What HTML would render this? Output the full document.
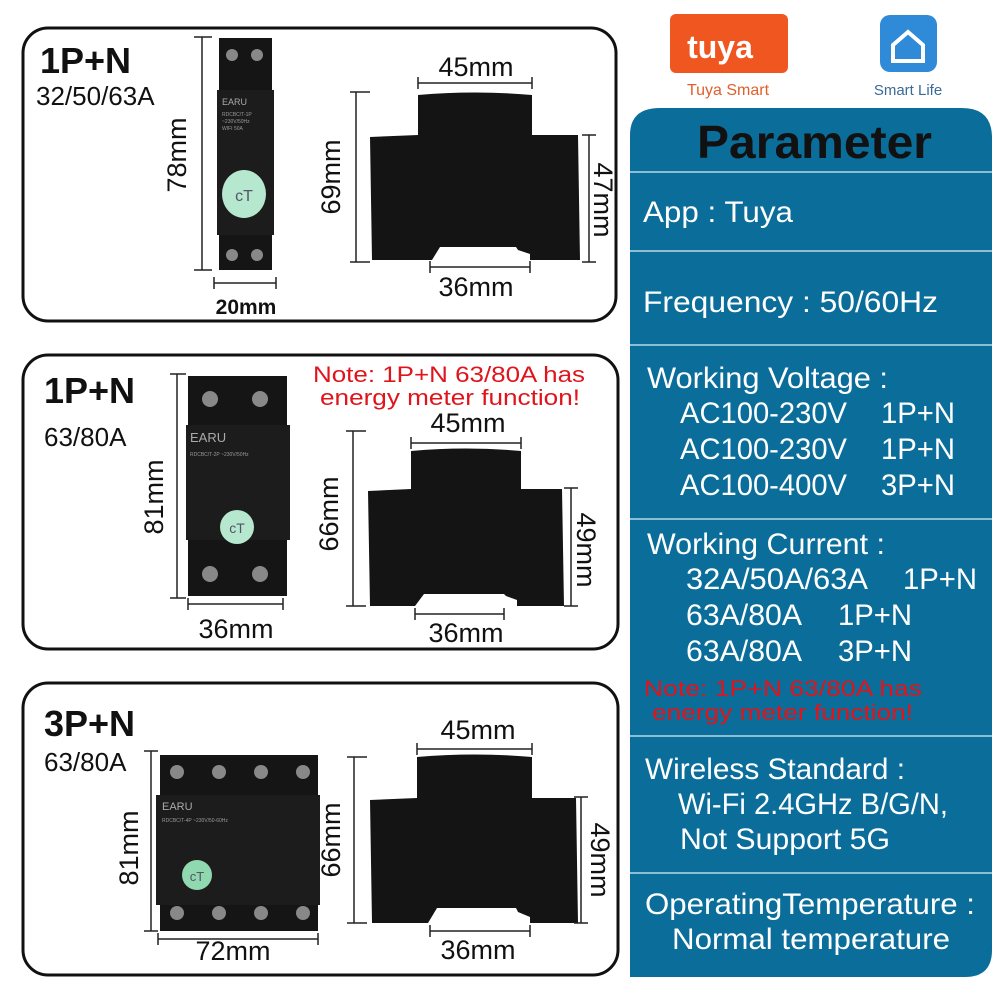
<!DOCTYPE html>
<html><head><meta charset="utf-8"><style>
html,body{margin:0;padding:0;background:#fff;}
svg{display:block;font-family:"Liberation Sans",sans-serif;}
</style></head><body>
<svg width="1000" height="1000" viewBox="0 0 1000 1000" xmlns="http://www.w3.org/2000/svg">
<rect width="1000" height="1000" fill="#fff"/>
<g fill="none" stroke="#111" stroke-width="3">
<rect x="23" y="28" width="593" height="293" rx="25"/>
<rect x="23" y="355" width="595" height="294" rx="25"/>
<rect x="23" y="683" width="595" height="292" rx="25"/>
</g>
<g fill="#111">
<text x="40" y="73" font-size="36" font-weight="bold">1P+N</text>
<text x="36" y="105" font-size="26">32/50/63A</text>
<text x="44" y="403" font-size="36" font-weight="bold">1P+N</text>
<text x="44" y="446" font-size="26">63/80A</text>
<text x="44" y="736" font-size="36" font-weight="bold">3P+N</text>
<text x="44" y="771" font-size="26">63/80A</text>
</g>
<text x="313" y="382" font-size="22" fill="#e0141b" textLength="272" lengthAdjust="spacingAndGlyphs">Note:  1P+N  63/80A  has</text>
<text x="320" y="405" font-size="22" fill="#e0141b" textLength="260" lengthAdjust="spacingAndGlyphs">energy meter function!</text>

<g>
<rect x="219" y="38" width="53" height="232" fill="#151515"/>
<rect x="217" y="90" width="57" height="145" fill="#1c1c1c"/>
<text x="222" y="105" font-size="9" fill="#aaa">EARU</text>
<text x="222" y="116" font-size="5" fill="#999">RDCBC/T-1P</text>
<text x="222" y="123" font-size="5" fill="#999">~230V/50Hz</text>
<text x="222" y="130" font-size="5" fill="#999">WIFI   50A</text>
<ellipse cx="244" cy="194" rx="22" ry="24" fill="#b6e8cf"/>
<text x="244" y="201" font-size="16" fill="#556" text-anchor="middle">cT</text>
<circle cx="232" cy="55" r="6" fill="#888"/><circle cx="257" cy="55" r="6" fill="#888"/>
<circle cx="232" cy="255" r="6" fill="#888"/><circle cx="257" cy="255" r="6" fill="#888"/>

<rect x="188" y="376" width="99" height="220" fill="#151515"/>
<rect x="186" y="425" width="104" height="115" fill="#1c1c1c"/>
<text x="190" y="442" font-size="13" fill="#aaa">EARU</text>
<text x="190" y="456" font-size="5" fill="#999">RDCBC/T-2P ~230V/50Hz</text>
<circle cx="237" cy="527" r="17" fill="#b6e8cf"/>
<text x="237" y="533" font-size="14" fill="#556" text-anchor="middle">cT</text>
<circle cx="210" cy="399" r="8" fill="#888"/><circle cx="260" cy="399" r="8" fill="#888"/>
<circle cx="210" cy="574" r="8" fill="#888"/><circle cx="260" cy="574" r="8" fill="#888"/>

<rect x="160" y="755" width="158" height="176" fill="#151515"/>
<rect x="156" y="795" width="164" height="110" fill="#1c1c1c"/>
<text x="162" y="810" font-size="11" fill="#aaa">EARU</text>
<text x="162" y="822" font-size="5" fill="#999">RDCBC/T-4P ~230V/50-60Hz</text>
<circle cx="197" cy="875" r="15" fill="#8fd8b0"/>
<text x="197" y="881" font-size="13" fill="#556" text-anchor="middle">cT</text>
<g fill="#888"><circle cx="177" cy="772" r="7"/><circle cx="219" cy="772" r="7"/><circle cx="261" cy="772" r="7"/><circle cx="303" cy="772" r="7"/>
<circle cx="177" cy="913" r="7"/><circle cx="219" cy="913" r="7"/><circle cx="261" cy="913" r="7"/><circle cx="303" cy="913" r="7"/></g>
</g>

<g fill="#141414">
<path d="M418 95 Q475 90 532 95 L532 135 L578 135 L580 260 L530 260 L530 254 L518 250 L516 247 L440 247 L432 260 L372 260 L370 137 L418 135 Z"/>
<path d="M411 451 Q466 446 521 451 L521 489 L562 489 L564 606 L517 606 L517 600 L506 596 L504 594 L424 594 L415 606 L370 606 L368 491 L411 489 Z"/>
<path d="M417 757 Q475 752 532 757 L532 798 L576 798 L578 923 L530 923 L530 917 L518 912 L516 908 L437 908 L428 923 L372 923 L370 800 L417 798 Z"/>
</g>

<g stroke="#222" stroke-width="1.5" fill="none">
<path d="M202 37V270 M194 37H212 M194 270H212 M214 283H276 M214 277V289 M276 277V289"/>
<path d="M356 92V262 M350 92H370 M350 262H370 M418 83H532 M418 77V89 M532 77V89 M589 135V262 M582 135H596 M582 262H596 M430 267H530 M430 261V273 M530 261V273"/>
<path d="M177 374V598 M170 374H186 M170 598H186 M188 604H283 M188 598V610 M283 598V610"/>
<path d="M353 431V606 M346 431H366 M346 606H366 M411 443H521 M411 437V449 M521 437V449 M571 488V606 M564 488H578 M564 606H578 M415 614H504 M415 608V620 M504 608V620"/>
<path d="M151 751V931 M144 751H158 M144 931H158 M158 939H318 M158 933V945 M318 933V945"/>
<path d="M354 757V923 M347 757H367 M347 923H367 M417 749H532 M417 743V755 M532 743V755 M581 797V923 M574 797H588 M574 923H588 M430 931H530 M430 925V937 M530 925V937"/>
</g>

<g fill="#111" font-size="27" text-anchor="middle">
<text transform="translate(186,155) rotate(-90)">78mm</text>
<text x="246" y="314" font-size="21" font-weight="bold">20mm</text>
<text transform="translate(340,177) rotate(-90)">69mm</text>
<text x="476" y="76">45mm</text>
<text transform="translate(594,200) rotate(90)">47mm</text>
<text x="476" y="296">36mm</text>

<text transform="translate(163,497) rotate(-90)">81mm</text>
<text x="236" y="638">36mm</text>
<text transform="translate(338,514) rotate(-90)">66mm</text>
<text x="468" y="432">45mm</text>
<text transform="translate(577,550) rotate(90)">49mm</text>
<text x="466" y="642">36mm</text>

<text transform="translate(138,848) rotate(-90)">81mm</text>
<text x="233" y="960">72mm</text>
<text transform="translate(340,840) rotate(-90)">66mm</text>
<text x="478" y="739">45mm</text>
<text transform="translate(591,860) rotate(90)">49mm</text>
<text x="478" y="959">36mm</text>
</g>

<rect x="670" y="14" width="118" height="59" rx="6" fill="#f0561f"/>
<text x="720" y="58" font-size="32" font-weight="bold" fill="#fff" text-anchor="middle">tuya</text>
<text x="728" y="95" font-size="16" fill="#e0602a" text-anchor="middle">Tuya Smart</text>
<rect x="880" y="15" width="57" height="57" rx="10" fill="#2f8ad8"/>
<path d="M893 45 L908 32 L923 45 V61 H893 Z" fill="none" stroke="#fff" stroke-width="4"/>
<text x="908" y="95" font-size="15" fill="#3b6a96" text-anchor="middle">Smart Life</text>

<path d="M630 135 Q630 108 660 108 L962 108 Q992 108 992 138 L992 950 Q992 977 965 977 L630 977 Z" fill="#0b6d9a"/>
<g stroke="#8dbdd2" stroke-width="2">
<line x1="630" y1="172" x2="992" y2="172"/>
<line x1="630" y1="251" x2="992" y2="251"/>
<line x1="630" y1="345" x2="992" y2="345"/>
<line x1="630" y1="519" x2="992" y2="519"/>
<line x1="630" y1="736" x2="992" y2="736"/>
<line x1="630" y1="873" x2="992" y2="873"/>
</g>
<text x="697" y="158" font-size="46" font-weight="bold" fill="#111" textLength="235" lengthAdjust="spacingAndGlyphs">Parameter</text>
<g fill="#fff" font-size="30" lengthAdjust="spacingAndGlyphs">
<text x="643" y="222" textLength="150" lengthAdjust="spacingAndGlyphs">App : Tuya</text>
<text x="643" y="312" textLength="295" lengthAdjust="spacingAndGlyphs">Frequency : 50/60Hz</text>
<text x="647" y="388" textLength="241" lengthAdjust="spacingAndGlyphs">Working Voltage :</text>
<text x="680" y="423" textLength="167" lengthAdjust="spacingAndGlyphs">AC100-230V</text><text x="881" y="423" textLength="74" lengthAdjust="spacingAndGlyphs">1P+N</text>
<text x="680" y="459" textLength="167" lengthAdjust="spacingAndGlyphs">AC100-230V</text><text x="881" y="459" textLength="74" lengthAdjust="spacingAndGlyphs">1P+N</text>
<text x="680" y="495" textLength="167" lengthAdjust="spacingAndGlyphs">AC100-400V</text><text x="881" y="495" textLength="74" lengthAdjust="spacingAndGlyphs">3P+N</text>
<text x="647" y="554" textLength="238" lengthAdjust="spacingAndGlyphs">Working Current :</text>
<text x="686" y="589" textLength="182" lengthAdjust="spacingAndGlyphs">32A/50A/63A</text><text x="903" y="589" textLength="74" lengthAdjust="spacingAndGlyphs">1P+N</text>
<text x="686" y="625" textLength="116" lengthAdjust="spacingAndGlyphs">63A/80A</text><text x="838" y="625" textLength="74" lengthAdjust="spacingAndGlyphs">1P+N</text>
<text x="686" y="661" textLength="116" lengthAdjust="spacingAndGlyphs">63A/80A</text><text x="838" y="661" textLength="74" lengthAdjust="spacingAndGlyphs">3P+N</text>
<text x="645" y="779" textLength="260" lengthAdjust="spacingAndGlyphs">Wireless Standard :</text>
<text x="678" y="814" textLength="270" lengthAdjust="spacingAndGlyphs">Wi-Fi 2.4GHz B/G/N,</text>
<text x="680" y="849" textLength="210" lengthAdjust="spacingAndGlyphs">Not Support 5G</text>
<text x="645" y="914" textLength="330" lengthAdjust="spacingAndGlyphs">OperatingTemperature :</text>
<text x="672" y="949" textLength="278" lengthAdjust="spacingAndGlyphs">Normal temperature</text>
</g>
<text x="644" y="696" font-size="22" fill="#e0141b" textLength="278" lengthAdjust="spacingAndGlyphs">Note:  1P+N  63/80A  has</text>
<text x="652" y="720" font-size="22" fill="#e0141b" textLength="261" lengthAdjust="spacingAndGlyphs">energy meter function!</text>
</svg>
</body></html>
